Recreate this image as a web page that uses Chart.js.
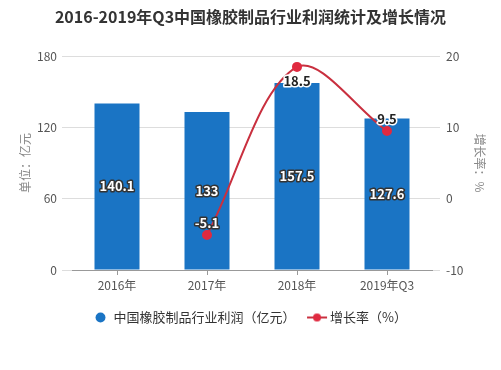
<!DOCTYPE html>
<html>
<head>
<meta charset="utf-8">
<script src="https://cdn.jsdelivr.net/npm/chart.js@4"></script>
<style>
  body { margin: 0; background: #fff; }
  #wrap { width: 501px; height: 370px; }
</style>
</head>
<body>
<div id="wrap"><canvas id="myChart" width="501" height="370"></canvas></div>
<script>
// chart data
const categories = ['2016年', '2017年', '2018年', '2019年Q3'];
const profit = [140.1, 133, 157.5, 127.6];
const growth = [null, -5.1, 18.5, 9.5];
const leftTicks = [0, 60, 120, 180];
const rightTicks = [-10, 0, 10, 20];

const FONT = '"Noto Sans CJK SC", "Noto Sans", sans-serif';
const barColor = '#1a74c4';
const lineColor = '#c9303f';
const dotColor = '#e02a40';

// little line+dot icon for the legend
const lineIcon = document.createElement('canvas');
lineIcon.width = 22; lineIcon.height = 10;
(function () {
  const c = lineIcon.getContext('2d');
  c.strokeStyle = lineColor; c.lineWidth = 2;
  c.beginPath(); c.moveTo(1, 5); c.lineTo(21, 5); c.stroke();
  c.fillStyle = dotColor;
  c.beginPath(); c.arc(11, 5, 4, 0, Math.PI * 2); c.fill();
})();

// draws the value labels on bars and points
const valueLabels = {
  id: 'valueLabels',
  afterDatasetsDraw(chart) {
    const ctx = chart.ctx;
    ctx.save();
    ctx.font = 'bold 13px ' + FONT;
    ctx.textAlign = 'center';
    ctx.textBaseline = 'middle';
    ctx.lineJoin = 'round';
    chart.getDatasetMeta(0).data.forEach((bar, i) => {
      const y = (bar.y + bar.base) / 2;
      ctx.lineWidth = 3;
      ctx.strokeStyle = '#333';
      ctx.strokeText(profit[i], bar.x, y);
      ctx.fillStyle = '#fff';
      ctx.fillText(profit[i], bar.x, y);
    });
    chart.getDatasetMeta(1).data.forEach((pt, i) => {
      if (growth[i] === null) return;
      const below = growth[i] > 15;
      const y = below ? pt.y + 14 : pt.y - 12;
      const onBar = growth[i] < 0;
      ctx.lineWidth = 3;
      ctx.strokeStyle = onBar ? '#333' : '#fff';
      ctx.strokeText(growth[i], pt.x, y);
      ctx.fillStyle = onBar ? '#fff' : '#222';
      ctx.fillText(growth[i], pt.x, y);
    });
    ctx.restore();
  }
};

const ctx = document.getElementById('myChart').getContext('2d');
new Chart(ctx, {
  data: {
    labels: categories,
    datasets: [{
      type: 'bar',
      label: '中国橡胶制品行业利润（亿元）',
      data: profit,
      backgroundColor: barColor,
      yAxisID: 'y',
      barPercentage: 0.5,
      categoryPercentage: 1,
      order: 2
    }, {
      type: 'line',
      label: '增长率（%）',
      data: growth,
      borderColor: lineColor,
      borderWidth: 2,
      backgroundColor: dotColor,
      pointBackgroundColor: dotColor,
      pointBorderColor: dotColor,
      pointRadius: 4,
      tension: 0.35,
      yAxisID: 'y1',
      order: 1
    }]
  },
  options: {
    responsive: false,
    animation: false,
    layout: { padding: { left: 0, right: 0, bottom: 36 } },
    plugins: {
      title: {
        display: true,
        text: '2016-2019年Q3中国橡胶制品行业利润统计及增长情况',
        color: '#333',
        font: { family: FONT, size: 16, weight: 'bold' },
        padding: { top: 7, bottom: 30 }
      },
      legend: {
        position: 'bottom',
        labels: {
          usePointStyle: true,
          boxHeight: 7,
          color: '#333',
          font: { family: FONT, size: 13 },
          padding: 15,
          generateLabels(chart) {
            return [
              { text: '中国橡胶制品行业利润（亿元）', fillStyle: barColor, strokeStyle: barColor, pointStyle: 'circle', datasetIndex: 0, lineWidth: 0, fontColor: '#333' },
              { text: '增长率（%）', pointStyle: lineIcon, datasetIndex: 1, lineWidth: 0, fontColor: '#333' }
            ];
          }
        }
      },
      tooltip: { enabled: false }
    },
    scales: {
      x: {
        grid: { drawOnChartArea: false, offset: false, tickLength: 5, color: '#999' },
        border: { color: '#999' },
        ticks: { color: '#555', font: { family: FONT, size: 12 }, padding: 3 },
        afterFit(s) { s.height = 26; }
      },
      y: {
        position: 'left',
        min: 0, max: 180,
        afterBuildTicks(s) { s.ticks = leftTicks.map(v => ({ value: v })); },
        grid: { color: '#ddd', tickLength: 10 },
        border: { display: false },
        ticks: { color: '#555', font: { family: FONT, size: 12 }, padding: 5 },
        title: { display: true, text: '单位：亿元', color: '#888', font: { family: FONT, size: 12 }, padding: { top: 18, bottom: 4 } },
        afterFit(s) { s.width = 72; }
      },
      y1: {
        position: 'right',
        min: -10, max: 20,
        afterBuildTicks(s) { s.ticks = rightTicks.map(v => ({ value: v })); },
        grid: { drawOnChartArea: false, color: '#ddd', tickLength: 8 },
        border: { display: false },
        ticks: { color: '#555', font: { family: FONT, size: 12 }, padding: 6 },
        title: { display: true, text: '增长率：%', color: '#888', font: { family: FONT, size: 12 }, padding: { top: 14, bottom: 4 } },
        afterFit(s) { s.width = 69; }
      }
    }
  },
  plugins: [valueLabels]
});
</script>
</body>
</html>
